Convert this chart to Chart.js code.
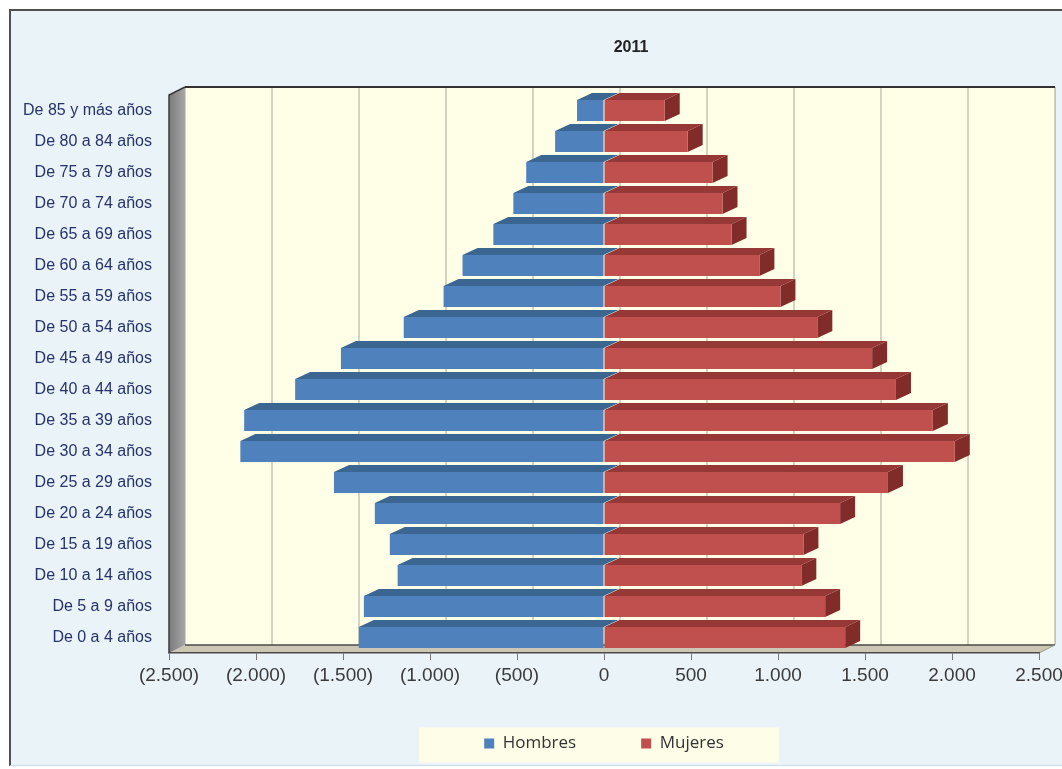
<!DOCTYPE html>
<html lang="es">
<head>
<meta charset="utf-8">
<title>Pirámide de población 2011</title>
<script src="https://cdn.jsdelivr.net/npm/chart.js@4.4.1/dist/chart.umd.min.js"></script>
<style>
  html, body { margin: 0; padding: 0; background: #ffffff; overflow: hidden; }
  #marco {
    position: absolute; left: 9px; top: 9px; width: 1200px; height: 754px;
    background: #EAF3F8;
    border-top: 2px solid #505050; border-left: 2px solid #505050;
    border-bottom: 1px solid #C9DCE6;
  }
  #grafico { position: absolute; left: 0; top: 0; }
</style>
</head>
<body>
<div id="marco"><canvas id="grafico" width="1240" height="754"></canvas></div>
<script>
// Grupos de edad, de mayor a menor (de arriba abajo)
const grupos = [
  'De 85 y más años', 'De 80 a 84 años', 'De 75 a 79 años', 'De 70 a 74 años',
  'De 65 a 69 años', 'De 60 a 64 años', 'De 55 a 59 años', 'De 50 a 54 años',
  'De 45 a 49 años', 'De 40 a 44 años', 'De 35 a 39 años', 'De 30 a 34 años',
  'De 25 a 29 años', 'De 20 a 24 años', 'De 15 a 19 años', 'De 10 a 14 años',
  'De 5 a 9 años', 'De 0 a 4 años'
];

// Población por sexo (mismo orden que los grupos)
const hombres = [155, 281, 447, 521, 636, 813, 922, 1151, 1512, 1775, 2068, 2090, 1552, 1317, 1231, 1186, 1380, 1409];
const mujeres = [349, 481, 624, 681, 733, 893, 1014, 1226, 1541, 1678, 1890, 2016, 1632, 1357, 1146, 1134, 1271, 1386];

// Marcas del eje horizontal y sus rótulos
const ticksX = [-2500, -2000, -1500, -1000, -500, 0, 500, 1000, 1500, 2000, 2500];
const etiquetasX = ['(2.500)', '(2.000)', '(1.500)', '(1.000)', '(500)', '0', '500', '1.000', '1.500', '2.000', '2.500'];

const titulo = '2011';

const colores = {
  hombres: { frente: '#4F81BD', techo: '#3B6692', lado: '#335A82' },
  mujeres: { frente: '#C0504D', techo: '#963836', lado: '#822C2A' }
};

// Fondo, paredes, suelo, caras en perspectiva de las barras y título
const escena3D = {
  id: 'escena3D',
  beforeDraw(chart) {
    const { ctx, chartArea: a, scales: { x } } = chart;
    const dx = 16, dy = -8;
    ctx.save();

    // recuadro de la leyenda
    const cajas = chart.legend && chart.legend.legendHitBoxes;
    if (cajas && cajas.length) {
      const primera = cajas[0], ultima = cajas[cajas.length - 1];
      const izq = primera.left - 65;
      const der = ultima.left + ultima.width + 55;
      const cy = primera.top + primera.height / 2;
      ctx.fillStyle = '#FEFEE8';
      ctx.fillRect(izq, cy - 16, der - izq, 35);
    }

    // pared del fondo
    ctx.fillStyle = '#FFFFE8';
    ctx.fillRect(a.left + dx, a.top + dy, a.right - a.left, a.bottom - a.top);

    // líneas de cuadrícula sobre la pared del fondo
    ctx.strokeStyle = '#D5D2BF';
    ctx.lineWidth = 2;
    ticksX.forEach(v => {
      const px = Math.round(x.getPixelForValue(v) + dx);
      ctx.beginPath();
      ctx.moveTo(px, a.top + dy);
      ctx.lineTo(px, a.bottom + dy);
      ctx.stroke();
    });

    // borde derecho de la pared
    ctx.strokeStyle = '#C4C4B4';
    ctx.lineWidth = 1;
    ctx.beginPath();
    ctx.moveTo(a.right + dx + 0.5, a.top + dy);
    ctx.lineTo(a.right + dx + 0.5, a.bottom + dy);
    ctx.stroke();

    // borde superior de la pared
    ctx.strokeStyle = '#333333';
    ctx.lineWidth = 2;
    ctx.beginPath();
    ctx.moveTo(a.left + dx, a.top + dy);
    ctx.lineTo(a.right + dx, a.top + dy);
    ctx.stroke();

    // suelo
    ctx.fillStyle = '#CBC7B3';
    ctx.beginPath();
    ctx.moveTo(a.left, a.bottom);
    ctx.lineTo(a.right, a.bottom);
    ctx.lineTo(a.right + dx, a.bottom + dy);
    ctx.lineTo(a.left + dx, a.bottom + dy);
    ctx.closePath();
    ctx.fill();
    ctx.strokeStyle = '#4A4A4A';
    ctx.lineWidth = 1.5;
    ctx.beginPath();
    ctx.moveTo(a.left + dx, a.bottom + dy);
    ctx.lineTo(a.right + dx, a.bottom + dy);
    ctx.stroke();
    ctx.strokeStyle = '#9C9A8C';
    ctx.lineWidth = 1;
    ctx.beginPath();
    ctx.moveTo(a.right, a.bottom);
    ctx.lineTo(a.right + dx, a.bottom + dy);
    ctx.stroke();

    // pared izquierda
    const g = ctx.createLinearGradient(a.left, 0, a.left + dx, 0);
    g.addColorStop(0, '#7A7A7A');
    g.addColorStop(1, '#A6A6A6');
    ctx.fillStyle = g;
    ctx.beginPath();
    ctx.moveTo(a.left, a.bottom);
    ctx.lineTo(a.left, a.top);
    ctx.lineTo(a.left + dx, a.top + dy);
    ctx.lineTo(a.left + dx, a.bottom + dy);
    ctx.closePath();
    ctx.fill();
    ctx.strokeStyle = '#3A3A3A';
    ctx.lineWidth = 1.5;
    ctx.beginPath();
    ctx.moveTo(a.left, a.bottom);
    ctx.lineTo(a.left, a.top);
    ctx.lineTo(a.left + dx, a.top + dy);
    ctx.stroke();

    // título, centrado sobre el recuadro completo
    ctx.fillStyle = '#222222';
    ctx.font = "bold 16px 'Liberation Sans', Arial, sans-serif";
    ctx.textAlign = 'center';
    ctx.textBaseline = 'middle';
    ctx.fillText(titulo, 620, 37);

    ctx.restore();
  },
  beforeDatasetsDraw(chart) {
    const { ctx } = chart;
    const dx = 15, dy = -7;
    const paletas = [colores.hombres, colores.mujeres];
    ctx.save();
    chart.data.datasets.forEach((ds, di) => {
      const meta = chart.getDatasetMeta(di);
      const pal = paletas[di];
      meta.data.forEach(el => {
        const { x, y, base, height } = el.getProps(['x', 'y', 'base', 'height'], true);
        const izq = Math.min(x, base), der = Math.max(x, base);
        const arriba = y - height / 2, abajo = y + height / 2;
        // cara superior
        ctx.fillStyle = pal.techo;
        ctx.beginPath();
        ctx.moveTo(izq, arriba);
        ctx.lineTo(izq + dx, arriba + dy);
        ctx.lineTo(der + dx, arriba + dy);
        ctx.lineTo(der, arriba);
        ctx.closePath();
        ctx.fill();
        // cara lateral derecha
        if (x > base) {
          ctx.fillStyle = pal.lado;
          ctx.beginPath();
          ctx.moveTo(der, arriba);
          ctx.lineTo(der + dx, arriba + dy);
          ctx.lineTo(der + dx, abajo + dy);
          ctx.lineTo(der, abajo);
          ctx.closePath();
          ctx.fill();
        }
      });
    });
    ctx.restore();
  }
};

new Chart(document.getElementById('grafico'), {
  type: 'bar',
  data: {
    labels: grupos,
    datasets: [
      { label: 'Hombres', data: hombres.map(v => -v), backgroundColor: colores.hombres.frente },
      { label: 'Mujeres', data: mujeres, backgroundColor: colores.mujeres.frente }
    ]
  },
  options: {
    indexAxis: 'y',
    responsive: false,
    animation: false,
    events: [],
    layout: { padding: { top: 84, left: 0, right: 212, bottom: 3 } },
    datasets: { bar: { categoryPercentage: 1, barPercentage: 0.68, borderWidth: 0 } },
    scales: {
      x: {
        stacked: true,
        min: -2500,
        max: 2500,
        afterBuildTicks: s => { s.ticks = ticksX.map(v => ({ value: v })); },
        afterFit: s => { s.height = 17; },
        grid: { drawOnChartArea: false, drawTicks: true, tickLength: 7, color: '#777777', lineWidth: 1 },
        border: { display: true, color: '#4A4A4A', width: 1.5 },
        ticks: {
          mirror: true, padding: -34, color: '#3A3A3A', maxRotation: 0, autoSkip: false,
          font: { family: "'Liberation Sans', Arial, sans-serif", size: 19 },
          callback: (v, i) => etiquetasX[i]
        }
      },
      y: {
        stacked: true,
        afterFit: s => { s.width = 158; },
        grid: { display: false, drawTicks: false },
        border: { display: false },
        ticks: {
          padding: 17, color: '#26326A', autoSkip: false,
          font: { family: "'Liberation Sans', Arial, sans-serif", size: 16 }
        }
      }
    },
    plugins: {
      title: { display: false },
      legend: {
        position: 'bottom',
        fullSize: false,
        labels: {
          boxWidth: 10, boxHeight: 10, padding: 65, color: '#333333',
          font: { family: "'Open Sans', sans-serif", size: 17 }
        }
      },
      tooltip: { enabled: false }
    }
  },
  plugins: [escena3D]
});
</script>
</body>
</html>
